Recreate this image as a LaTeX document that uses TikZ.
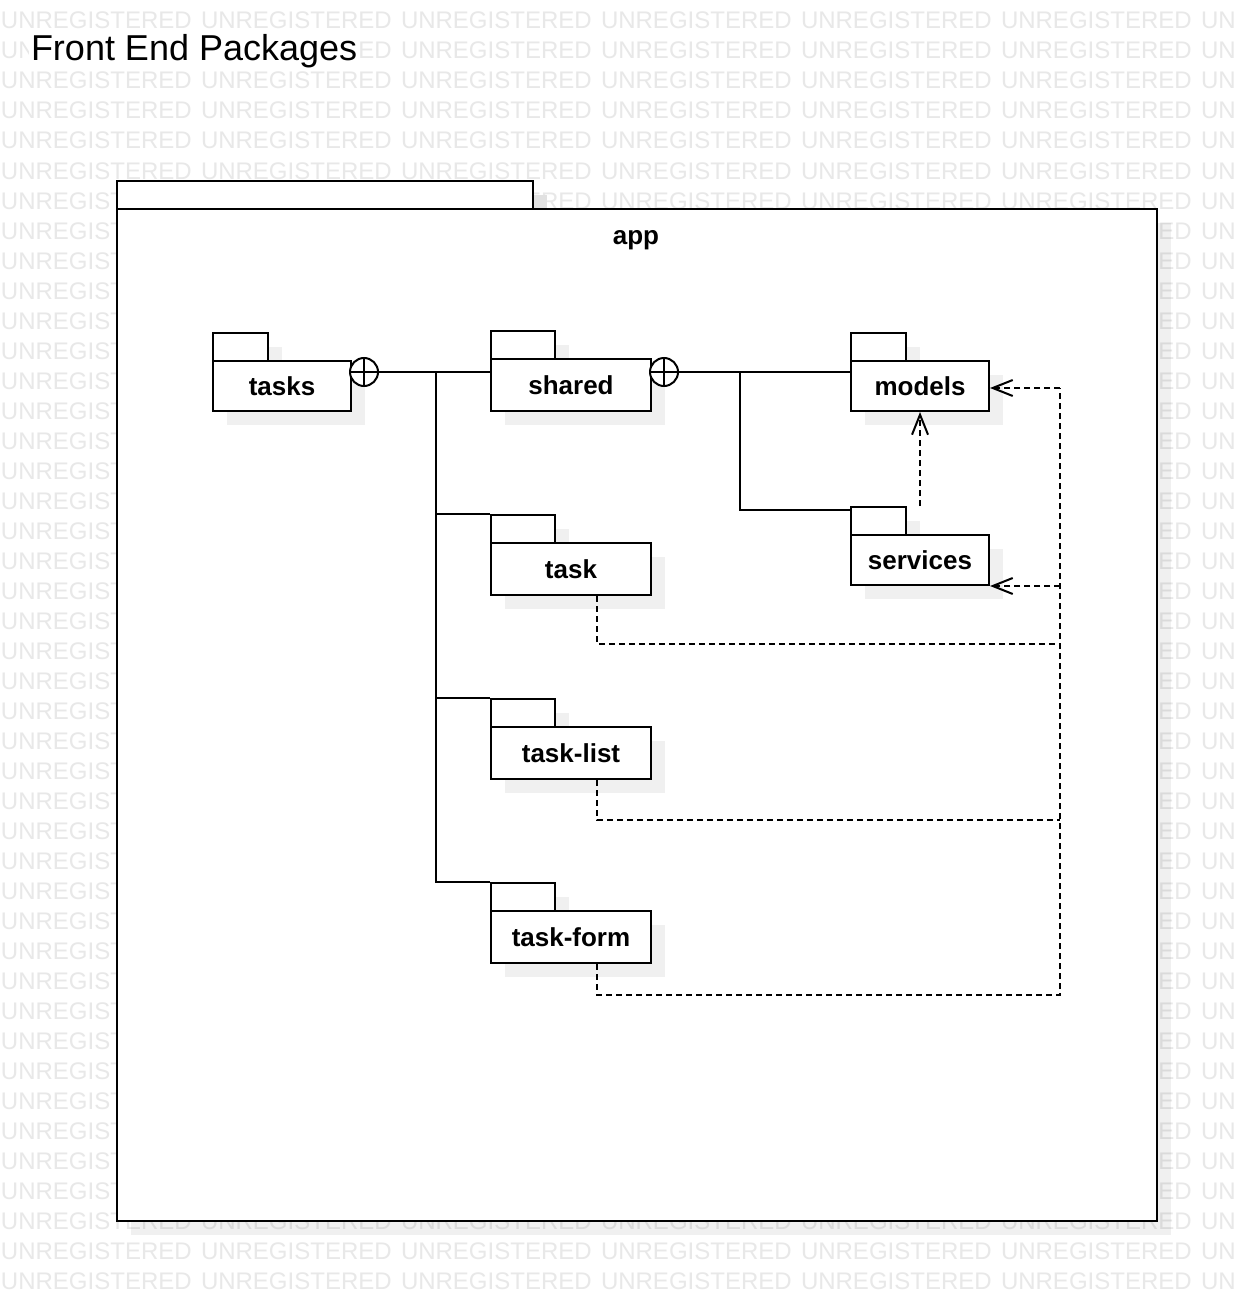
\documentclass[tikz,border=0pt]{standalone}
\usepackage{fontspec}
\setmainfont{Liberation Sans}
\usetikzlibrary{arrows.meta,shadows,calc}
\newcommand{\pkgfont}{\fontsize{26}{30}\selectfont\bfseries}
\begin{document}
\begin{tikzpicture}[x=1pt,y=-1pt,line width=2pt,
  shad/.style={drop shadow={shadow xshift=14pt,shadow yshift=-14pt,fill=black!6,opacity=1}},
  appshad/.style={drop shadow={shadow xshift=14pt,shadow yshift=-14pt,fill=black,opacity=0.06}},
  pkgbody/.style={draw,fill=white,anchor=north west,inner sep=0pt,font=\pkgfont,text height=19pt,text depth=0pt,shad},
  pkgtab/.style={draw,fill=white,anchor=north west,inner sep=0pt,minimum height=28pt,shad},
  wm/.style={anchor=base west,inner sep=0pt,text=black!9,font=\fontsize{24}{28}\selectfont},
  lollipop/.style={draw,circle,fill=white,minimum size=28pt,inner sep=0pt,
    path picture={\draw[line width=2pt] (path picture bounding box.north) -- (path picture bounding box.south)
      (path picture bounding box.west) -- (path picture bounding box.east);}},
  solidline/.style={draw,line width=2pt},
  dashline/.style={draw,line width=2pt,dash pattern=on 6pt off 4pt},
  dep/.style={dashline,-{Straight Barb[length=20pt,width=16pt]}}
]
\useasboundingbox (0,0) rectangle (1236,1300);
\fill[white] (0,0) rectangle (1236,1300);
% watermark
\begin{scope}
\clip (0,0) rectangle (1236,1300);
% full rows
\foreach \r in {0,2,3,4,5,6,40,41,42}{
  \foreach \c in {0,...,5}{
    \node[wm] (wm-\r-\c) at (\c*200, 29+\r*30) {UNREGISTERED};
  }
  \node[wm] (wm-\r-6) at (1200, 29+\r*30) {UN};
}
% row behind the title
\node[wm] (wm-1-0) at (0,59) {UN};
\node[wm] (wm-1-1) at (357.3,59) {ED};
\foreach \c in {2,...,5}{
  \node[wm] (wm-1-\c) at (\c*200, 59) {UNREGISTERED};
}
\node[wm] (wm-1-6) at (1200,59) {UN};
% rows behind the app package
\foreach \r in {7,...,39}{
  \node[wm] (wm-\r-0) at (0, 29+\r*30) {UNREGIST};
  \node[wm] (wm-\r-5) at (1157.3, 29+\r*30) {ED};
  \node[wm] (wm-\r-6) at (1200, 29+\r*30) {UN};
}
\end{scope}
% title
\node[anchor=base west,inner sep=2pt,fill=white,font=\fontsize{36}{40}\selectfont] (title) at (28,61) {Front End Packages};
% app package
\node[pkgtab,appshad,minimum width=416pt] (appTab) at (116,180) {};
\node[draw,fill=white,anchor=north west,inner sep=0pt,minimum width=1040pt,minimum height=1012pt,appshad] (app) at (116,208) {};
\node[anchor=base,inner sep=0pt,font=\pkgfont] (appLabel) at (636,244) {app};
% packages
\node[pkgtab,minimum width=55pt] (tasksTab) at (212,332) {};
\node[pkgbody,minimum width=138pt,minimum height=50pt] (tasks) at (212,360) {tasks};
\node[pkgtab,minimum width=64pt] (sharedTab) at (490,330) {};
\node[pkgbody,minimum width=160pt,minimum height=52pt] (shared) at (490,358) {shared};
\node[pkgtab,minimum width=55pt] (modelsTab) at (850,332) {};
\node[pkgbody,minimum width=138pt,minimum height=50pt] (models) at (850,360) {models};
\node[pkgtab,minimum width=55pt] (servicesTab) at (850,506) {};
\node[pkgbody,minimum width=138pt,minimum height=50pt] (services) at (850,534) {services};
\node[pkgtab,minimum width=64pt] (taskTab) at (490,514) {};
\node[pkgbody,minimum width=160pt,minimum height=52pt] (task) at (490,542) {task};
\node[pkgtab,minimum width=64pt] (tasklistTab) at (490,698) {};
\node[pkgbody,minimum width=160pt,minimum height=52pt] (tasklist) at (490,726) {task-list};
\node[pkgtab,minimum width=64pt] (taskformTab) at (490,882) {};
\node[pkgbody,minimum width=160pt,minimum height=52pt] (taskform) at (490,910) {task-form};
% nesting connectors
\node[lollipop] (tasksC) at (364,372) {};
\node[lollipop] (sharedC) at (664,372) {};
\coordinate (j1) at (436,372);
\coordinate (j2) at (740,372);
\coordinate (svcIn) at (850,510);
\draw[solidline] (tasksC.east) -- (tasksC.east -| shared.west);
\draw[solidline] (j1) |- (taskTab.north west);
\draw[solidline] (j1) |- (tasklistTab.north west);
\draw[solidline] (j1) |- (taskformTab.north west);
\draw[solidline] (sharedC.east) -- (sharedC.east -| models.west);
\draw[solidline] (j2) |- (svcIn);
% dependencies
\coordinate (b1) at (1060,644);
\coordinate (b2) at (1060,820);
\coordinate (b3) at (1060,995);
\coordinate (bTop) at (1060,388);
\draw[dep] (servicesTab.north -| models.south) -- (models.south);
\draw[dashline] ($(task.south)+(26,0)$) |- (b1);
\draw[dashline] ($(tasklist.south)+(26,0)$) |- (b2);
\draw[dashline] ($(taskform.south)+(26,0)$) |- (b3) -- (bTop);
\draw[dep] (bTop) -- (bTop -| models.east);
\draw[dep] (bTop |- services.south east) -- (services.south east);
\end{tikzpicture}
\end{document}
